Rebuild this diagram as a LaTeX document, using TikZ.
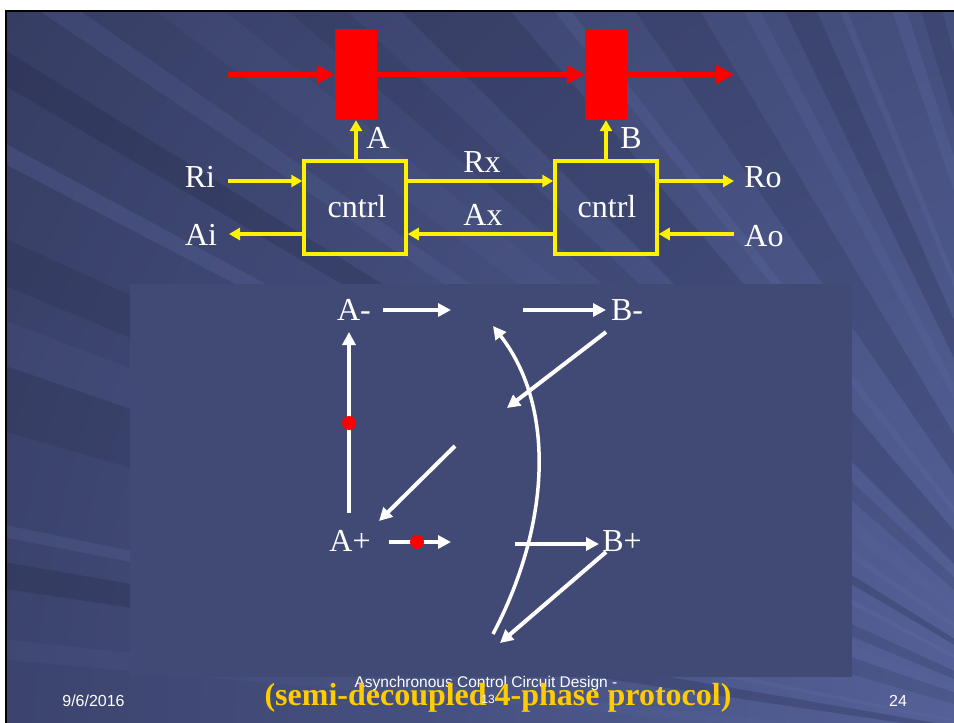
\documentclass[tikz,border=0pt]{standalone}
\usepackage{fontspec}
\setmainfont{Liberation Serif}
\newfontfamily\arialf{Liberation Sans}
\usetikzlibrary{arrows.meta}
\definecolor{bginner}{HTML}{5966A0}
\definecolor{bgouter}{HTML}{20243E}
\definecolor{streak}{HTML}{6470AA}
\definecolor{shadowc}{HTML}{1F2440}
\definecolor{panel}{HTML}{414A74}
\definecolor{ttl}{HTML}{FFCC00}
\begin{document}
\begin{tikzpicture}[x=1pt,y=-1pt,
  redarr/.style={draw=red,line width=5pt,-{Triangle[length=18pt,width=18pt]}},
  yarr/.style={draw=yellow,line width=4pt,-{Triangle[length=11pt,width=12pt]}},
  warr/.style={draw=white,line width=4pt,-{Triangle[length=13pt,width=13pt]}},
  regbox/.style={fill=red,minimum width=42pt,minimum height=91pt,inner sep=0pt},
  ctlbox/.style={draw=yellow,line width=3.5pt,minimum width=102pt,minimum height=93pt,inner sep=0pt},
  lbl/.style={text=white,font=\fontsize{32}{34}\selectfont,inner sep=0pt,anchor=base},
  foot/.style={text=white,font=\arialf\fontsize{16}{18}\selectfont,inner sep=0pt,anchor=base},
  reddot/.style={circle,fill=red,minimum size=14pt,inner sep=0pt}]
\useasboundingbox (0,0) rectangle (954,723);
\fill[white] (0,0) rectangle (954,723);
% slide background
\begin{scope}
\clip (7,12) rectangle (954,723);
\shade[inner color=bginner,outer color=bgouter] (1150,760) circle (2200);
\begin{scope}[shift={(1150,760)}]
\foreach \a/\b/\c/\o in {
  185/186/streak/0.15, 188.5/189.8/shadowc/0.35, 191/191.6/streak/0.3,
  196/199/shadowc/0.2, 199/201/streak/0.15, 202.5/204.5/shadowc/0.25,
  207.5/208.3/streak/0.35, 210.5/211.8/shadowc/0.35, 214/215/streak/0.25,
  217/219/streak/0.15, 221/223/shadowc/0.2, 225/229.5/shadowc/0.3,
  231.5/232.3/streak/0.3, 235.5/239/shadowc/0.25, 241.5/242.5/streak/0.25,
  244/246/shadowc/0.3, 247.5/248/streak/0.3, 251/252/streak/0.3,
  253/254.5/shadowc/0.25}
  \fill[\c,opacity=0.7*\o] (0,0) -- (\a:2000) -- (\b:2000) -- cycle;
\end{scope}
\end{scope}
\draw[black,line width=2pt] (6,723) -- (6,11) -- (954,11);
% panel
\fill[panel] (130,284) rectangle (852,677);

% ---------- top circuit ----------
\node[regbox] (regA) at (356,74.5) {};
\node[regbox] (regB) at (606,74.5) {};
\node[ctlbox] (ctlA) at (355,207.5) {};
\node[ctlbox] (ctlB) at (606,207.5) {};
\node[lbl] (tA) at (357,217) {cntrl};
\node[lbl] (tB) at (607,217) {cntrl};

\coordinate (din) at (228,74.5);
\coordinate (dout) at (734,74.5);
\draw[redarr] (din) -- (regA.west);
\draw[redarr] (regA.east) -- (regB.west);
\draw[redarr] (regB.east) -- (dout);

\draw[yarr] (regA.south |- ctlA.north) -- (regA.south);
\draw[yarr] (regB.south |- ctlB.north) -- (regB.south);
\node[lbl] (lA) at (378,148) {A};
\node[lbl] (lB) at (631,148) {B};

\coordinate (ri) at (228,181);
\coordinate (ai) at (229,234);
\coordinate (ro) at (734,181);
\coordinate (ao) at (734,234);
\draw[yarr] (ri) -- (ri -| ctlA.west);
\draw[yarr] (ai -| ctlA.west) -- (ai);
\draw[yarr] (ri -| ctlA.east) -- (ri -| ctlB.west);
\draw[yarr] (ai -| ctlB.west) -- (ai -| ctlA.east);
\draw[yarr] (ro -| ctlB.east) -- (ro);
\draw[yarr] (ao) -- (ao -| ctlB.east);
\node[lbl] (lRi) at (200,187) {Ri};
\node[lbl] (lAi) at (201,245) {Ai};
\node[lbl] (lRx) at (482,172) {Rx};
\node[lbl] (lAx) at (483,225) {Ax};
\node[lbl] (lRo) at (763,187) {Ro};
\node[lbl] (lAo) at (764,246) {Ao};

% ---------- lower STG ----------
\node[lbl] (Am) at (354,320) {A-};
\node[lbl] (Ap) at (350,551) {A+};
\node[lbl] (Bm) at (627,320) {B-};
\node[lbl] (Bp) at (622,551) {B+};

\coordinate (a1s) at (383,310);  \coordinate (a1e) at (451,310);
\coordinate (a2s) at (523,310);  \coordinate (a2e) at (606,310);
\coordinate (a3s) at (349,513);  \coordinate (a3e) at (349,332);
\coordinate (a4s) at (455,446);  \coordinate (a4e) at (379,521);
\coordinate (a5s) at (389,542);  \coordinate (a5e) at (451,542);
\coordinate (a6s) at (515,544);  \coordinate (a6e) at (599,544);
\coordinate (a7s) at (606,332);  \coordinate (a7e) at (507,408);
\coordinate (a8s) at (606,552);  \coordinate (a8e) at (500,643);
\coordinate (cb) at (493,634);   \coordinate (ct) at (493,326);

\draw[warr] (a1s) -- (a1e);
\draw[warr] (a2s) -- (a2e);
\draw[warr] (a3s) -- (a3e);
\draw[warr] (a4s) -- (a4e);
\draw[warr] (a5s) -- (a5e);
\draw[warr] (a6s) -- (a6e);
\draw[warr] (a7s) -- (a7e);
\draw[warr] (a8s) -- (a8e);
\draw[warr,line width=3.5pt] (cb) .. controls (548,530) and (558,410) .. (ct);
\node[reddot] (d1) at (349,423) {};
\node[reddot] (d2) at (417,542) {};

% ---------- footer ----------
\node[foot] (date) at (93.5,706) {9/6/2016};
\node[foot] (pg) at (898,706) {24};
\node[foot,font=\arialf\fontsize{15.5}{17}\selectfont] (ft) at (486,687) {Asynchronous Control Circuit Design -};
\node[text=ttl,font=\bfseries\fontsize{32}{34}\selectfont,inner sep=0pt,anchor=base] (title) at (498,705) {(semi-decoupled 4-phase protocol)};
\node[foot,font=\arialf\fontsize{12}{14}\selectfont] (ln) at (488,703) {13};
\end{tikzpicture}
\end{document}
